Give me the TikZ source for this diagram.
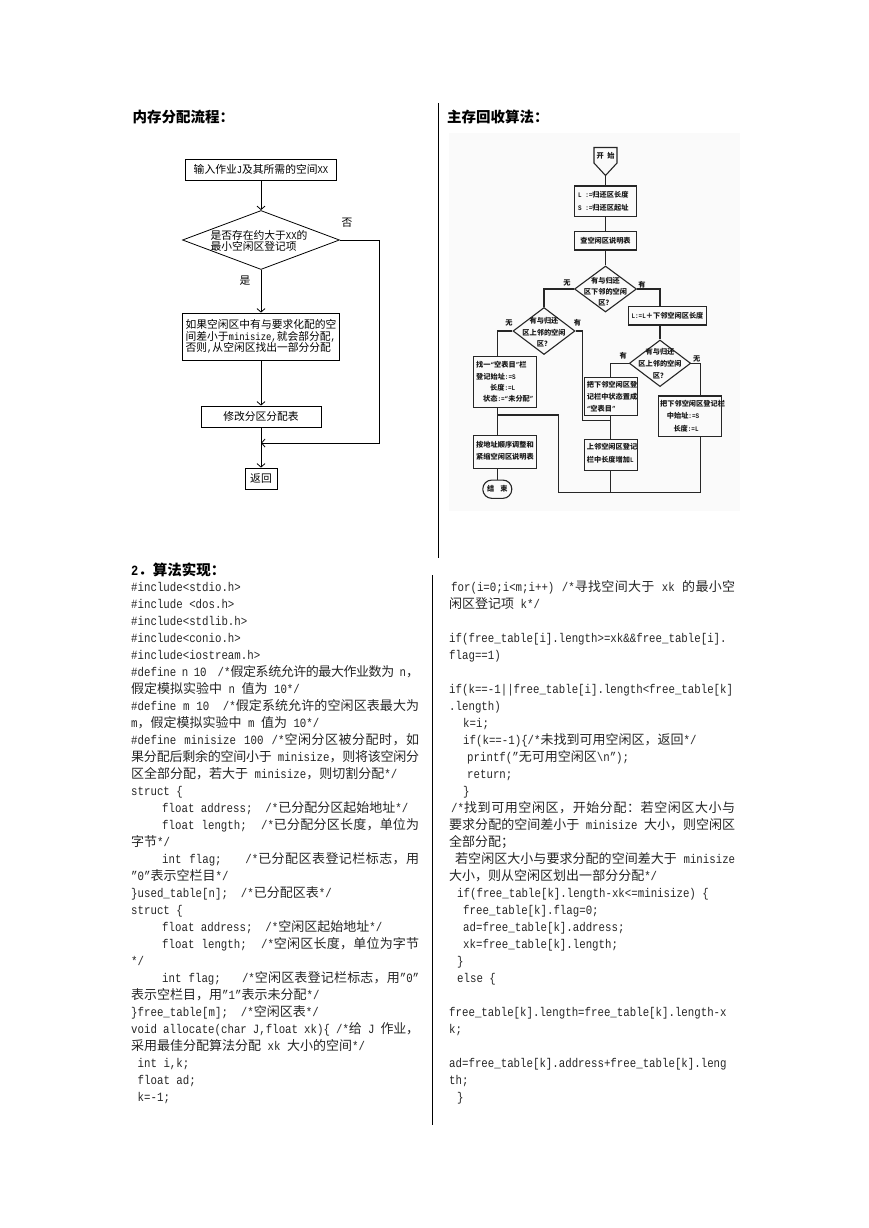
\documentclass[tikz,border=0pt]{standalone}
\usepackage{fontspec}
\setmainfont{Liberation Mono}[FakeStretch=0.85]
\newfontfamily\cjk{Noto Sans CJK SC}[Scale=1.028]
\usetikzlibrary{shapes.geometric,arrows.meta}
% automatic switching to the CJK font for Chinese characters
\chardef\CJKcls=7
\newcount\cjkc
\def\setcjkrange#1#2{\cjkc=#1\relax\loop\XeTeXcharclass\cjkc=\CJKcls\relax\ifnum\cjkc<#2\relax\advance\cjkc by 1\relax\repeat}
\setcjkrange{"3000}{"303F}
\setcjkrange{"4E00}{"9FFF}
\setcjkrange{"FF00}{"FFEF}
\XeTeXcharclass"201C=0
\XeTeXcharclass"201D=0
\XeTeXinterchartoks 0 \CJKcls = {\cjk}
\XeTeXinterchartoks 4095 \CJKcls = {\cjk}
\XeTeXinterchartoks \CJKcls 0 = {\rmfamily}
\XeTeXinterchartoks \CJKcls 4095 = {\rmfamily}
\XeTeXinterchartoks \CJKcls \CJKcls = {\hskip 0pt plus 1pt minus 1pt\relax}
\XeTeXinterchartokenstate=1
\newcommand\codefont{\fontsize{12.65}{17}\selectfont}
\newcommand\headfont{\fontsize{14.1}{16}\selectfont\bfseries}
\newcommand\lfont{\fontsize{10.48}{11.7}\selectfont}
\newcommand\rfont{\fontsize{7.0}{11}\selectfont\bfseries}
\tikzset{
  codetxt/.style={inner sep=0pt, anchor=base west, font=\codefont, text=black!85},
  head/.style={inner sep=0pt, anchor=base west, font=\headfont},
  lline/.style={line width=0.8pt, draw=black},
  larr/.style={lline, -{Straight Barb[length=3.5pt,width=8pt]}},
  lbox/.style={lline, inner sep=0pt, font=\lfont},
  ltxt/.style={inner sep=0pt, font=\lfont},
  rline/.style={line width=1.1pt, draw=black!85},
  rbox/.style={rline, inner sep=0pt, font=\rfont, text=black!90},
  rtxt/.style={inner sep=0pt, font=\rfont, text=black!90},
  rtw/.style={rtxt, anchor=west},
  rdia/.style={rline, diamond, inner sep=0pt},
  divider/.style={line width=0.9pt, draw=black},
}
\newcommand\codeL[3]{\node[codetxt] (cl#1) at ({131+#2},{591+17*#1}) {#3};}
\newcommand\codeLj[3]{\node[codetxt] (cl#1) at ({131+#2},{591+17*#1}) {\hbox to \dimexpr288pt-#2pt\relax{#3}};}
\newcommand\codeR[3]{\node[codetxt] (cr#1) at ({448+#2},{591+17*#1}) {#3};}
\newcommand\codeRj[3]{\node[codetxt] (cr#1) at ({448+#2},{591+17*#1}) {\hbox to \dimexpr287pt-#2pt\relax{#3}};}
\begin{document}
\begin{tikzpicture}[x=1pt,y=-1pt]
\useasboundingbox (0,0) rectangle (869,1228);
\fill[white] (0,0) rectangle (869,1228);

% ---------- headings ----------
\node[head] (h1) at (132.5,122) {内存分配流程：};
\node[head] (h2) at (447,122) {主存回收算法：};
\node[head] (h3) at (131,575.5) {2．算法实现：};

% ---------- dividers ----------
\draw[divider] (438.3,103) -- (438.3,558);
\draw[divider] (432.3,575) -- (432.3,1125);

% ---------- left flowchart ----------
\node[lbox, draw, minimum width=151pt, minimum height=21pt] (b1) at (261,169.5) {输入作业J及其所需的空间XX};
\node[lline, diamond, inner sep=0pt, minimum width=157pt, minimum height=59pt] (d1) at (261,240) {};
\node[ltxt, align=left] (d1t) at (259,241) {是否存在约大于XX的\\最小空闲区登记项};
\node[lbox, draw, minimum width=157pt, minimum height=47pt] (b2) at (261,336.5) {};
\node[ltxt, align=left] (b2t) at (261,336.5) {如果空闲区中有与要求化配的空\\间差小于minisize,就会部分配,\\否则,从空闲区找出一部分分配};
\node[lbox, draw, minimum width=120pt, minimum height=21pt] (b3) at (261,416.5) {修改分区分配表};
\node[lbox, draw, minimum width=32pt, minimum height=21pt] (b4) at (261,478.5) {返回};
\node[ltxt] (lno) at (347,223) {否};
\node[ltxt] (lyes) at (245,281) {是};
\coordinate (rc) at (379,443);
\coordinate (jn) at (261,443);
\draw[larr] (b1.south) -- (d1.north);
\draw[larr] (d1.south) -- (b2.north);
\draw[larr] (b2.south) -- (b3.north);
\draw[larr] (b3.south) -- (b4.north);
\draw[larr] (d1.east) -| (rc) -- (jn);

% ---------- right flowchart (scanned) ----------
\fill[black!2] (449,133) rectangle (740,511);
\draw[rline, line join=miter] (594,147.5) -- (617,147.5) -- (617,163) -- (605.5,175.5) -- (594,163) -- cycle;
\node[rtxt] (st) at (605.5,155.5) {开 始};
\coordinate (sttip) at (605.5,175.5);
\node[rbox, minimum width=62pt, minimum height=30.7pt] (r1) at (605.5,201.3) {};
\node[rtw] (r1a) at (578,195) {L :=归还区长度};
\node[rtw] (r1b) at (578,208.3) {S :=归还区起址};
\node[rbox, minimum width=62pt, minimum height=18.3pt] (r2) at (605.5,240.8) {查空闲区说明表};
\node[rdia, minimum width=62pt, minimum height=46pt] (rd1) at (605.5,289) {};
\node[rtxt] (rd1a) at (605.5,280.5) {有与归还};
\node[rtxt] (rd1b) at (605.5,291.5) {区下邻的空闲};
\node[rtxt] (rd1c) at (605.5,302.5) {区？};
\node[rtxt] (l1n) at (567,283) {无};
\node[rtxt] (l1y) at (642,285) {有};
\node[rdia, minimum width=62pt, minimum height=47pt] (rd2) at (544,331) {};
\node[rtxt] (rd2a) at (544,321) {有与归还};
\node[rtxt] (rd2b) at (544,332.5) {区上邻的空闲};
\node[rtxt] (rd2c) at (544,344) {区？};
\node[rtxt] (l2n) at (509,323) {无};
\node[rtxt] (l2y) at (577.5,323) {有};
\node[rbox, minimum width=62.7pt, minimum height=51.3pt] (rA) at (504.7,381.7) {};
\node[rtw] (rA1) at (476,365) {找一“空表目”栏};
\node[rtw] (rA2) at (476,376.5) {登记始址:=S};
\node[rtw] (rA3) at (490,387.5) {长度:=L};
\node[rtw] (rA4) at (483,398.5) {状态:=“未分配”};
\node[rbox, minimum width=63.4pt, minimum height=33.3pt] (rB) at (505,451.7) {};
\node[rtxt] (rB1) at (505,444.5) {按地址顺序调整和};
\node[rtxt] (rB2) at (505,457) {紧缩空闲区说明表};
\node[rbox, rounded corners=9pt, minimum width=29pt, minimum height=18.3pt] (rEnd) at (497.3,489.2) {结\hspace{6pt}束};
\node[rbox, minimum width=78.4pt, minimum height=18.3pt] (rE) at (667.5,315.8) {L:=L＋下邻空闲区长度};
\node[rdia, minimum width=61.4pt, minimum height=46.6pt] (rd3) at (660,363.3) {};
\node[rtxt] (rd3a) at (660,351.5) {有与归还};
\node[rtxt] (rd3b) at (660,363.5) {区上邻的空闲};
\node[rtxt] (rd3c) at (660,376) {区？};
\node[rtxt] (l3y) at (623.3,356) {有};
\node[rtxt] (l3n) at (696.7,359) {无};
\node[rbox, minimum width=53.3pt, minimum height=37.7pt] (rC) at (610.7,396.2) {};
\node[rtw] (rC1) at (586.7,385) {把下邻空闲区登};
\node[rtw] (rC2) at (586.7,396.7) {记栏中状态置成};
\node[rtw] (rC3) at (586.7,408.3) {“空表目”};
\node[rbox, minimum width=53.3pt, minimum height=31.4pt] (rD) at (610.7,455) {};
\node[rtw] (rD1) at (586.7,446.7) {上邻空闲区登记};
\node[rtw] (rD2) at (586.7,459.3) {栏中长度增加L};
\node[rbox, minimum width=63.4pt, minimum height=40.7pt] (rF) at (690,416.3) {};
\node[rtw] (rF1) at (660,404) {把下邻空闲区登记栏};
\node[rtw] (rF2) at (666.7,416) {中始址:=S};
\node[rtw] (rF3) at (673.3,428.3) {长度:=L};
\coordinate (colA) at (497.3,415);
\coordinate (colF) at (700.7,396);
\coordinate (bl) at (558.3,492.7);
\coordinate (k1) at (582.7,420.7);
\coordinate (jC) at (610.7,420.7);
\draw[rline] (sttip) -- (r1.north);
\draw[rline] (r1.south) -- (r2.north);
\draw[rline] (r2.south) -- (rd1.north);
\draw[rline] (rd1.west) -| (rd2.north);
\draw[rline] (rd2.west) -| (rA.north -| colA);
\draw[rline] (rA.south -| colA) -- (rB.north -| colA);
\draw[rline] (rB.south -| colA) -- (rEnd.north);
\draw[rline] (rd1.east) -| (rE.north -| rd3.north);
\draw[rline] (rE.south -| rd3.north) -- (rd3.north);
\draw[rline] (rd3.west) -| (rC.north);
\draw[rline] (rd3.east) -| (colF);
\draw[rline] (rC.south) -- (rD.north);
\draw[rline] (rd2.east) -| (k1) -- (jC);
\draw[rline] (rD.south) -- (rD.south |- bl);
\draw[rline] (rF.south -| colF) |- (bl) |- (colA);

% ---------- code, left column ----------
\codeL{0}{0}{\#include<stdio.h>}
\codeL{1}{0}{\#include <dos.h>}
\codeL{2}{0}{\#include<stdlib.h>}
\codeL{3}{0}{\#include<conio.h>}
\codeL{4}{0}{\#include<iostream.h>}
\codeLj{5}{0}{\#define n 10\ \ /*假定系统允许的最大作业数为 n，}
\codeL{6}{0}{假定模拟实验中 n 值为 10*/}
\codeLj{7}{0}{\#define m 10\ \ /*假定系统允许的空闲区表最大为}
\codeL{8}{0}{m，假定模拟实验中 m 值为 10*/}
\codeLj{9}{0}{\#define minisize 100 /*空闲分区被分配时，如}
\codeLj{10}{0}{果分配后剩余的空间小于 minisize，则将该空闲分}
\codeL{11}{0}{区全部分配，若大于 minisize，则切割分配*/}
\codeL{12}{0}{struct \{}
\codeL{13}{31}{float address;\ \ /*已分配分区起始地址*/}
\codeLj{14}{31}{float length;\ \ /*已分配分区长度，单位为}
\codeL{15}{0}{字节*/}
\codeLj{16}{31}{int flag;\ \ \ /*已分配区表登记栏标志，用}
\codeL{17}{0}{”0”表示空栏目*/}
\codeL{18}{0}{\}used\_table[n];\ \ /*已分配区表*/}
\codeL{19}{0}{struct \{}
\codeL{20}{31}{float address;\ \ /*空闲区起始地址*/}
\codeLj{21}{31}{float length;\ \ /*空闲区长度，单位为字节}
\codeL{22}{0}{*/}
\codeLj{23}{31}{int flag;\ \ \ /*空闲区表登记栏标志，用”0”}
\codeL{24}{0}{表示空栏目，用”1”表示未分配*/}
\codeL{25}{0}{\}free\_table[m];\ \ /*空闲区表*/}
\codeLj{26}{0}{void allocate(char J,float xk)\{ /*给 J 作业，}
\codeL{27}{0}{采用最佳分配算法分配 xk 大小的空间*/}
\codeL{28}{6.5}{int i,k;}
\codeL{29}{6.5}{float ad;}
\codeL{30}{6.5}{k=-1;}

% ---------- code, right column ----------
\codeRj{0}{3}{for(i=0;i<m;i++) /*寻找空间大于 xk 的最小空}
\codeR{1}{1}{闲区登记项 k*/}
\codeR{3}{1}{if(free\_table[i].length>=xk\&\&free\_table[i].}
\codeR{4}{1}{flag==1)}
\codeR{6}{1}{if(k==-1||free\_table[i].length<free\_table[k]}
\codeR{7}{1}{.length)}
\codeR{8}{15}{k=i;}
\codeR{9}{15}{if(k==-1)\{/*未找到可用空闲区，返回*/}
\codeR{10}{19}{printf(”无可用空闲区\textbackslash n”);}
\codeR{11}{19}{return;}
\codeR{12}{15}{\}}
\codeRj{13}{3}{/*找到可用空闲区，开始分配：若空闲区大小与}
\codeRj{14}{1}{要求分配的空间差小于 minisize 大小，则空闲区}
\codeR{15}{1}{全部分配；}
\codeRj{16}{7}{若空闲区大小与要求分配的空间差大于 minisize}
\codeR{17}{1}{大小，则从空闲区划出一部分分配*/}
\codeR{18}{9}{if(free\_table[k].length-xk<=minisize) \{}
\codeR{19}{15}{free\_table[k].flag=0;}
\codeR{20}{15}{ad=free\_table[k].address;}
\codeR{21}{15}{xk=free\_table[k].length;}
\codeR{22}{9}{\}}
\codeR{23}{9}{else \{}
\codeR{25}{1}{free\_table[k].length=free\_table[k].length-x}
\codeR{26}{1}{k;}
\codeR{28}{1}{ad=free\_table[k].address+free\_table[k].leng}
\codeR{29}{1}{th;}
\codeR{30}{9}{\}}
\end{tikzpicture}
\end{document}
